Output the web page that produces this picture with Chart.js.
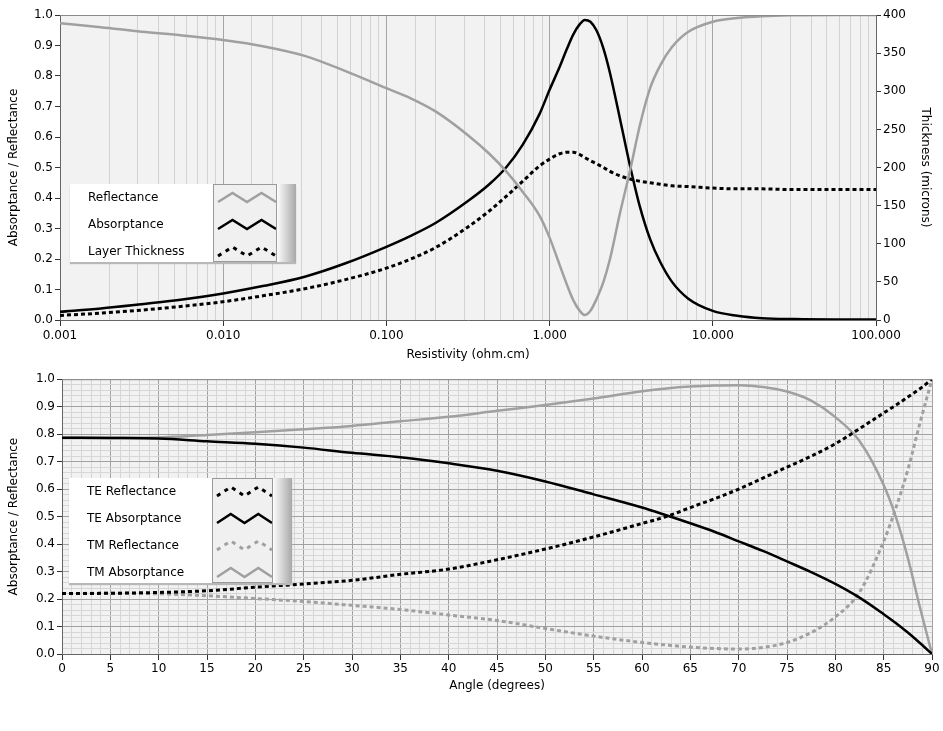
<!DOCTYPE html>
<html>
<head>
<meta charset="utf-8">
<script src="https://cdn.jsdelivr.net/npm/chart.js@4/dist/chart.umd.min.js"></script>
<style>
  body { margin: 0; background: #fff; font-family: "DejaVu Sans", sans-serif; }
  #wrap { position: relative; width: 943px; height: 731px; overflow: hidden; }
  #topBox { position: absolute; left: 0; top: 0; width: 943px; height: 370px; }
  #bottomBox { position: absolute; left: 0; top: 370px; width: 943px; height: 361px; }
  .legend { position: absolute; background: #fff; box-shadow: 0 2px 1px #b8b8b8; font-size: 12px; color: #000; }
  .legend .lbl { position: absolute; left: 18px; line-height: 14px; white-space: nowrap; }
  .legend .icons { position: absolute; top: 0; bottom: 0; background: #f0f0f0; border: 1px solid #9a9a9a; box-sizing: border-box; }
  .legend .shade { position: absolute; top: 0; bottom: 0; background: linear-gradient(to right, #fdfdfd, #a8a8a8); }
  .legend svg { position: absolute; left: 2px; }
</style>
</head>
<body>
<div id="wrap">
  <div id="topBox"><canvas id="topChart"></canvas></div>
  <div id="bottomBox"><canvas id="bottomChart"></canvas></div>
  <div class="legend" id="legTop" style="left:70px;top:184px;width:226px;height:78px;"></div>
  <div class="legend" id="legBottom" style="left:69px;top:478px;width:223px;height:105px;"></div>
</div>
<script>
// top chart: resistivity sweep
var resistivity = [0.001, 0.00178, 0.00316, 0.00562, 0.01, 0.0178, 0.0316, 0.0562, 0.1, 0.141, 0.2, 0.316,
  0.427, 0.541, 0.685, 0.867, 1.0, 1.153, 1.268, 1.393, 1.531, 1.644, 1.778, 1.936, 2.138, 2.344, 2.698,
  3.112, 3.581, 4.13, 4.764, 5.623, 7.079, 10, 14.13, 19.95, 31.62, 56.23, 100];
var reflectance = [0.973, 0.96, 0.945, 0.933, 0.918, 0.897, 0.866, 0.816, 0.76, 0.727, 0.684, 0.606,
  0.545, 0.488, 0.42, 0.342, 0.27, 0.18, 0.12, 0.066, 0.03, 0.016, 0.03, 0.068, 0.125, 0.2, 0.35,
  0.49, 0.64, 0.76, 0.835, 0.895, 0.945, 0.978, 0.99, 0.996, 0.999, 1.0, 1.0];
var absorptance = [0.027, 0.038, 0.052, 0.067, 0.087, 0.112, 0.142, 0.186, 0.24, 0.276, 0.318, 0.39,
  0.445, 0.5, 0.575, 0.675, 0.755, 0.83, 0.885, 0.935, 0.97, 0.984, 0.978, 0.95, 0.89, 0.81, 0.66,
  0.505, 0.37, 0.265, 0.19, 0.125, 0.07, 0.03, 0.014, 0.006, 0.003, 0.002, 0.002];
var thickness = [6, 9, 13, 18, 24, 32, 41, 53, 68, 80, 95, 122,
  143, 162, 182, 202, 211, 218, 220, 220, 217, 213, 209, 205, 200, 195, 189,
  185, 182, 180, 178, 176, 175, 173, 172, 172, 171, 171, 171];

// bottom chart: angle sweep
var angle = [0, 5, 10, 15, 20, 25, 30, 35, 40, 45, 50, 55, 60, 62.5, 65, 67.5, 70, 72.5, 75, 77.5,
  80, 82.5, 85, 86.25, 87.5, 88.75, 90];
var teReflectance = [0.22, 0.221, 0.224, 0.23, 0.243, 0.255, 0.268, 0.29, 0.309, 0.343, 0.382, 0.426,
  0.475, 0.5, 0.533, 0.565, 0.6, 0.64, 0.68, 0.72, 0.765, 0.82, 0.877, 0.905, 0.935, 0.965, 1.0];
var teAbsorptance = [0.787, 0.786, 0.784, 0.774, 0.765, 0.751, 0.732, 0.716, 0.694, 0.667, 0.628, 0.581,
  0.533, 0.505, 0.476, 0.445, 0.41, 0.375, 0.337, 0.298, 0.255, 0.205, 0.145, 0.113, 0.078, 0.04, 0.0];
var tmReflectance = [0.22, 0.221, 0.219, 0.212, 0.202, 0.191, 0.177, 0.162, 0.142, 0.122, 0.093, 0.065,
  0.042, 0.033, 0.025, 0.02, 0.018, 0.024, 0.042, 0.078, 0.135, 0.225, 0.41, 0.53, 0.67, 0.84, 1.0];
var tmAbsorptance = [0.787, 0.787, 0.788, 0.797, 0.807, 0.818, 0.83, 0.847, 0.863, 0.885, 0.906, 0.93,
  0.956, 0.966, 0.973, 0.977, 0.978, 0.972, 0.955, 0.922, 0.862, 0.775, 0.615, 0.5, 0.35, 0.17, 0.0];

var topLegend = ['Reflectance', 'Absorptance', 'Layer Thickness'];
var bottomLegend = ['TE Reflectance', 'TE Absorptance', 'TM Reflectance', 'TM Absorptance'];

var GRAY = '#a0a0a0';
var BLACK = '#000000';
var FONT = { family: '"DejaVu Sans", sans-serif', size: 12 };

Chart.defaults.color = '#000';
Chart.defaults.font.family = FONT.family;
Chart.defaults.font.size = 12;

function pairs(xs, ys) {
  return xs.map(function (x, i) { return { x: x, y: ys[i] }; });
}

function lineSet(label, data, color, dashed, axis) {
  return {
    label: label,
    data: data,
    borderColor: color,
    borderWidth: dashed ? 3 : 2.5,
    borderDash: dashed ? [4, 3] : [],
    pointRadius: 0,
    fill: false,
    cubicInterpolationMode: 'monotone',
    yAxisID: axis || 'y'
  };
}

// plot background + top frame line
var plotBg = {
  id: 'plotBg',
  beforeDraw: function (chart) {
    var a = chart.chartArea, c = chart.ctx;
    c.save();
    c.fillStyle = '#f2f2f2';
    c.fillRect(a.left, a.top, a.right - a.left, a.bottom - a.top);
    c.restore();
  },
  afterDraw: function (chart) {
    var a = chart.chartArea, c = chart.ctx;
    c.save();
    c.strokeStyle = '#8a8a8a';
    c.lineWidth = 1;
    c.beginPath();
    c.moveTo(a.left, a.top + 0.5);
    c.lineTo(a.right, a.top + 0.5);
    c.stroke();
    c.restore();
  }
};

function isDecade(v) {
  var l = Math.log10(v);
  return Math.abs(l - Math.round(l)) < 1e-6;
}

new Chart(document.getElementById('topChart'), {
  type: 'line',
  data: {
    datasets: [
      lineSet(topLegend[0], pairs(resistivity, reflectance), GRAY, false),
      lineSet(topLegend[1], pairs(resistivity, absorptance), BLACK, false),
      lineSet(topLegend[2], pairs(resistivity, thickness), BLACK, true, 'y2')
    ]
  },
  options: {
    responsive: true,
    maintainAspectRatio: false,
    animation: false,
    layout: { padding: { top: 15, left: 0, right: 0, bottom: 0 } },
    plugins: { legend: { display: false }, tooltip: { enabled: false } },
    scales: {
      x: {
        type: 'logarithmic',
        min: 0.001,
        max: 100,
        afterFit: function (s) { s.height = 50; },
        ticks: {
          autoSkip: false,
          maxRotation: 0,
          padding: 3,
          callback: function (v) { return isDecade(v) ? v.toFixed(3) : ''; }
        },
        grid: {
          color: function (ctx) { return ctx.tick && isDecade(ctx.tick.value) ? '#a6a6a6' : '#d2d2d2'; },
          tickColor: function (ctx) { return ctx.tick && isDecade(ctx.tick.value) ? '#333' : 'rgba(0,0,0,0)'; },
          tickLength: 6
        },
        border: { color: '#666' },
        title: { display: true, text: 'Resistivity (ohm.cm)', padding: { top: 0, bottom: 8 } }
      },
      y: {
        position: 'left',
        min: 0,
        max: 1,
        afterFit: function (s) { s.width = 60; },
        ticks: { stepSize: 0.1, padding: 2, callback: function (v) { return v.toFixed(1); } },
        grid: { drawOnChartArea: false, tickLength: 5, tickColor: '#333' },
        border: { color: '#666' },
        title: { display: true, text: 'Absorptance / Reflectance', padding: { top: 7, bottom: 0 } }
      },
      y2: {
        position: 'right',
        min: 0,
        max: 400,
        afterFit: function (s) { s.width = 67; },
        ticks: { stepSize: 50, padding: 2 },
        grid: { drawOnChartArea: false, tickLength: 5, tickColor: '#333' },
        border: { color: '#666' },
        title: { display: true, text: 'Thickness (microns)', padding: { top: 11, bottom: 0 } }
      }
    }
  },
  plugins: [plotBg]
});

function fifth(v, step) {
  return Math.round(v / step) % 5 === 0;
}

new Chart(document.getElementById('bottomChart'), {
  type: 'line',
  data: {
    datasets: [
      lineSet(bottomLegend[0], pairs(angle, teReflectance), BLACK, true),
      lineSet(bottomLegend[1], pairs(angle, teAbsorptance), BLACK, false),
      lineSet(bottomLegend[2], pairs(angle, tmReflectance), GRAY, true),
      lineSet(bottomLegend[3], pairs(angle, tmAbsorptance), GRAY, false)
    ]
  },
  options: {
    responsive: true,
    maintainAspectRatio: false,
    animation: false,
    layout: { padding: { top: 9, left: 0, right: 11, bottom: 0 } },
    plugins: { legend: { display: false }, tooltip: { enabled: false } },
    scales: {
      x: {
        type: 'linear',
        min: 0,
        max: 90,
        afterFit: function (s) { s.height = 77; },
        ticks: {
          stepSize: 1,
          autoSkip: false,
          maxRotation: 0,
          padding: 2,
          callback: function (v) { return fifth(v, 1) ? String(Math.round(v)) : ''; }
        },
        grid: {
          color: function (ctx) { return ctx.tick && fifth(ctx.tick.value, 1) ? '#a2a2a2' : '#d6d6d6'; },
          tickColor: function (ctx) { return ctx.tick && fifth(ctx.tick.value, 1) ? '#333' : 'rgba(0,0,0,0)'; },
          tickLength: 6
        },
        border: { color: '#666' },
        title: { display: true, text: 'Angle (degrees)', padding: { top: 0, bottom: 38 } }
      },
      y: {
        min: 0,
        max: 1,
        afterFit: function (s) { s.width = 62; },
        ticks: {
          stepSize: 0.02,
          autoSkip: false,
          padding: 2,
          callback: function (v) { return fifth(v, 0.02) ? v.toFixed(1) : ''; }
        },
        grid: {
          color: function (ctx) { return ctx.tick && fifth(ctx.tick.value, 0.02) ? '#a2a2a2' : '#d6d6d6'; },
          tickColor: function (ctx) { return ctx.tick && fifth(ctx.tick.value, 0.02) ? '#333' : 'rgba(0,0,0,0)'; },
          tickLength: 5
        },
        border: { color: '#666' },
        title: { display: true, text: 'Absorptance / Reflectance', padding: { top: 7, bottom: 0 } }
      }
    }
  },
  plugins: [plotBg]
});

// legends as html boxes with zigzag samples
function buildLegend(id, labels, styles, iconLeft, iconWidth) {
  var box = document.getElementById(id);
  var boxW = parseInt(box.style.width, 10);
  var icons = document.createElement('div');
  icons.className = 'icons';
  icons.style.left = iconLeft + 'px';
  icons.style.width = iconWidth + 'px';
  box.appendChild(icons);
  var shade = document.createElement('div');
  shade.className = 'shade';
  shade.style.left = (iconLeft + iconWidth) + 'px';
  shade.style.width = (boxW - iconLeft - iconWidth) + 'px';
  box.appendChild(shade);
  labels.forEach(function (text, i) {
    var cy = 13 + i * 27;
    var lbl = document.createElement('div');
    lbl.className = 'lbl';
    lbl.style.top = (cy - 7) + 'px';
    lbl.textContent = text;
    box.appendChild(lbl);
    var st = styles[i];
    var svg = document.createElementNS('http://www.w3.org/2000/svg', 'svg');
    svg.setAttribute('width', iconWidth - 4);
    svg.setAttribute('height', 16);
    svg.style.top = (cy - 8) + 'px';
    var w = iconWidth - 6;
    var pl = document.createElementNS('http://www.w3.org/2000/svg', 'polyline');
    pl.setAttribute('points', [[2, 12], [2 + w * 0.25, 3], [2 + w * 0.5, 12], [2 + w * 0.75, 3], [2 + w, 12]].map(function (p) { return p.join(','); }).join(' '));
    pl.setAttribute('fill', 'none');
    pl.setAttribute('stroke', st.color);
    pl.setAttribute('stroke-width', st.dashed ? 3 : 2.5);
    if (st.dashed) pl.setAttribute('stroke-dasharray', '4 5');
    svg.appendChild(pl);
    icons.appendChild(svg);
  });
}

buildLegend('legTop', topLegend,
  [{ color: GRAY }, { color: BLACK }, { color: BLACK, dashed: true }], 143, 64);
buildLegend('legBottom', bottomLegend,
  [{ color: BLACK, dashed: true }, { color: BLACK }, { color: GRAY, dashed: true }, { color: GRAY }], 143, 61);
</script>
</body>
</html>
